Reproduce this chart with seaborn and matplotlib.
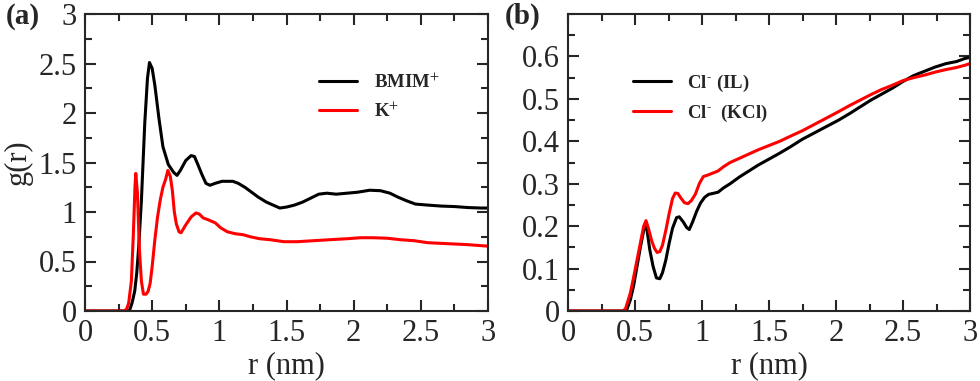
import numpy as np
import pandas as pd
import seaborn as sns
import matplotlib
matplotlib.use("Agg")
import matplotlib.pyplot as plt
from matplotlib.ticker import MultipleLocator

# ---- data ----
r_bmim = [0, 0.30, 0.33, 0.35, 0.37, 0.385, 0.40, 0.42, 0.445, 0.465, 0.48, 0.50, 0.52, 0.55, 0.58,
          0.62, 0.66, 0.685, 0.71, 0.75, 0.79, 0.815, 0.84, 0.87, 0.90, 0.93, 0.97, 1.02, 1.06, 1.10,
          1.14, 1.19, 1.24, 1.29, 1.35, 1.40, 1.45, 1.50, 1.56, 1.62, 1.68, 1.74, 1.80, 1.87, 1.95,
          2.03, 2.12, 2.20, 2.27, 2.33, 2.40, 2.46, 2.55, 2.65, 2.75, 2.85, 2.95, 3.0]
g_bmim = [0, 0, 0, 0.08, 0.2, 0.38, 0.65, 1.12, 1.9, 2.35, 2.51, 2.45, 2.28, 1.95, 1.66,
          1.48, 1.40, 1.37, 1.42, 1.52, 1.57, 1.56, 1.48, 1.38, 1.29, 1.27, 1.29, 1.31, 1.31, 1.31,
          1.29, 1.25, 1.2, 1.15, 1.1, 1.07, 1.04, 1.05, 1.07, 1.10, 1.14, 1.18, 1.19, 1.18, 1.19,
          1.20, 1.22, 1.215, 1.19, 1.15, 1.11, 1.08, 1.07, 1.06, 1.055, 1.045, 1.04, 1.04]

r_k = [0, 0.29, 0.31, 0.325, 0.345, 0.36, 0.372, 0.378, 0.39, 0.405, 0.42, 0.435, 0.455, 0.47,
       0.485, 0.50, 0.52, 0.54, 0.56, 0.58, 0.60, 0.617, 0.635, 0.65, 0.665, 0.68, 0.70, 0.715,
       0.75, 0.79, 0.825, 0.85, 0.88, 0.92, 0.97, 1.01, 1.06, 1.12, 1.18, 1.23, 1.30, 1.38, 1.48,
       1.58, 1.70, 1.82, 1.95, 2.05, 2.15, 2.25, 2.35, 2.45, 2.55, 2.70, 2.85, 3.0]
g_k = [0, 0, 0.02, 0.08, 0.3, 0.78, 1.25, 1.39, 1.2, 0.62, 0.3, 0.17, 0.17, 0.2,
       0.28, 0.45, 0.72, 0.95, 1.12, 1.25, 1.33, 1.42, 1.36, 1.22, 1.0, 0.88, 0.80, 0.79,
       0.87, 0.95, 0.99, 0.98, 0.94, 0.92, 0.89, 0.84, 0.80, 0.78, 0.77, 0.75, 0.73, 0.72, 0.70,
       0.70, 0.71, 0.72, 0.73, 0.74, 0.74, 0.735, 0.72, 0.71, 0.69, 0.68, 0.67, 0.655]

r_cl_il = [0, 0.42, 0.44, 0.465, 0.49, 0.515, 0.54, 0.565, 0.578, 0.59, 0.61, 0.635, 0.66, 0.685,
           0.705, 0.73, 0.755, 0.78, 0.81, 0.83, 0.86, 0.885, 0.905, 0.93, 0.96, 0.99, 1.02, 1.05,
           1.08, 1.12, 1.16, 1.21, 1.28, 1.35, 1.42, 1.50, 1.58, 1.66, 1.75, 1.84, 1.93, 2.02, 2.10,
           2.18, 2.26, 2.34, 2.42, 2.50, 2.58, 2.66, 2.74, 2.82, 2.90, 2.96, 3.0]
g_cl_il = [0, 0, 0.004, 0.026, 0.06, 0.105, 0.15, 0.19, 0.205, 0.19, 0.145, 0.105, 0.078, 0.076,
           0.09, 0.12, 0.16, 0.195, 0.22, 0.222, 0.21, 0.197, 0.192, 0.21, 0.235, 0.255, 0.268, 0.275,
           0.277, 0.28, 0.29, 0.30, 0.316, 0.33, 0.344, 0.358, 0.372, 0.387, 0.405, 0.42, 0.435, 0.45,
           0.465, 0.481, 0.497, 0.511, 0.525, 0.541, 0.555, 0.565, 0.575, 0.583, 0.588, 0.595, 0.598]

r_cl_kcl = [0, 0.41, 0.43, 0.465, 0.49, 0.515, 0.54, 0.565, 0.582, 0.60, 0.625, 0.645, 0.665, 0.685,
            0.705, 0.73, 0.755, 0.78, 0.80, 0.82, 0.845, 0.87, 0.895, 0.92, 0.95, 0.98, 1.01, 1.04,
            1.08, 1.12, 1.16, 1.21, 1.28, 1.35, 1.42, 1.50, 1.58, 1.66, 1.75, 1.84, 1.93, 2.02, 2.10,
            2.18, 2.26, 2.34, 2.42, 2.50, 2.58, 2.66, 2.74, 2.82, 2.90, 2.96, 3.0]
g_cl_kcl = [0, 0, 0.006, 0.042, 0.08, 0.12, 0.16, 0.2, 0.213, 0.195, 0.165, 0.148, 0.138, 0.14,
            0.155, 0.19, 0.23, 0.265, 0.278, 0.277, 0.265, 0.255, 0.253, 0.26, 0.275, 0.3, 0.317, 0.32,
            0.325, 0.33, 0.34, 0.35, 0.36, 0.37, 0.38, 0.39, 0.40, 0.412, 0.425, 0.44, 0.455, 0.47,
            0.484, 0.497, 0.51, 0.522, 0.532, 0.543, 0.55, 0.556, 0.563, 0.569, 0.574, 0.579, 0.583]

labels_a = [r"BMIM$^{+}$", r"K$^{+}$"]
labels_b = [r"Cl$^{\text{-}}$ (IL)", r"Cl$^{\text{-}}$  (KCl)"]
colors = ["black", "#ff0000"]

# ---- style ----
sns.set_style("ticks")
plt.rcParams["font.family"] = ["Liberation Serif", "DejaVu Serif"]
plt.rcParams["mathtext.fontset"] = "stix"

fig = plt.figure(figsize=(9.8, 3.81), dpi=100)
ax_a = fig.add_axes([85 / 980, 1 - 311 / 381, 403 / 980, 297 / 381])
ax_b = fig.add_axes([568 / 980, 1 - 311 / 381, 402 / 980, 297 / 381])

df_a = pd.concat([
    pd.DataFrame({"r": r_bmim, "g": g_bmim, "s": labels_a[0]}),
    pd.DataFrame({"r": r_k, "g": g_k, "s": labels_a[1]}),
])
df_b = pd.concat([
    pd.DataFrame({"r": r_cl_il, "g": g_cl_il, "s": labels_b[0]}),
    pd.DataFrame({"r": r_cl_kcl, "g": g_cl_kcl, "s": labels_b[1]}),
])

sns.lineplot(data=df_a, x="r", y="g", hue="s", palette=colors, estimator=None,
             sort=False, linewidth=2.2, ax=ax_a)
sns.lineplot(data=df_b, x="r", y="g", hue="s", palette=colors, estimator=None,
             sort=False, linewidth=2.2, ax=ax_b)

tick_fs = 22
for ax in (ax_a, ax_b):
    ax.set_xlim(0, 3)
    ax.xaxis.set_major_locator(MultipleLocator(0.5))
    ax.xaxis.set_minor_locator(MultipleLocator(0.25))
    ax.tick_params(which="both", direction="in", top=True, right=True, width=1.5,
                   labelsize=tick_fs, pad=6)
    ax.tick_params(which="major", length=8)
    ax.tick_params(which="minor", length=5)
    for sp in ax.spines.values():
        sp.set_linewidth(1.5)
    ax.set_xlabel("r (nm)", fontsize=22, labelpad=2)
    ax.set_xticks([0, 0.5, 1, 1.5, 2, 2.5, 3])
    ax.set_xticklabels(["0", "0.5", "1", "1.5", "2", "2.5", "3"])

ax_a.set_ylim(0, 3)
ax_a.set_yticks([0, 0.5, 1, 1.5, 2, 2.5, 3])
ax_a.set_yticklabels(["0", "0.5", "1", "1.5", "2", "2.5", "3"])
ax_a.yaxis.set_minor_locator(MultipleLocator(0.25))
ax_a.set_ylabel("g(r)", fontsize=22, labelpad=4)

ax_b.set_ylim(0, 0.7)
ax_b.set_yticks([0, 0.1, 0.2, 0.3, 0.4, 0.5, 0.6])
ax_b.set_yticklabels(["0", "0.1", "0.2", "0.3", "0.4", "0.5", "0.6"])
ax_b.yaxis.set_minor_locator(MultipleLocator(0.05))
ax_b.set_ylabel("")

leg_prop = {"weight": "bold", "size": 13.5}
la = ax_a.legend(loc="upper left", bbox_to_anchor=(0.54, 0.86), frameon=False, prop=leg_prop,
                 handlelength=2.0, handletextpad=0.9, labelspacing=0.5, title=None)
lb = ax_b.legend(loc="upper left", bbox_to_anchor=(0.12, 0.86), frameon=False, prop=leg_prop,
                 handlelength=2.0, handletextpad=0.9, labelspacing=0.5, title=None)
for lg in (la, lb):
    for h in lg.get_lines():
        h.set_linewidth(2.2)

fig.text(6 / 980, 1 - 16 / 381, "(a)", fontsize=21, fontweight="bold", va="center", ha="left")
fig.text(505 / 980, 1 - 16 / 381, "(b)", fontsize=21, fontweight="bold", va="center", ha="left")

fig.savefig("out.png", dpi=100)
